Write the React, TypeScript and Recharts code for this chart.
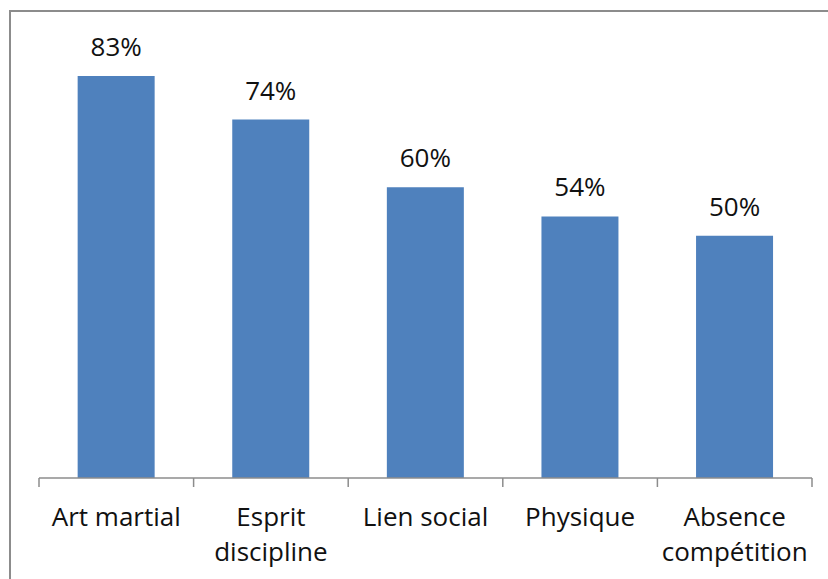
import { BarChart, Bar, XAxis, YAxis, LabelList } from 'recharts'

const categories = ['Art martial', 'Esprit discipline', 'Lien social', 'Physique', 'Absence compétition']
const shares = [83, 74, 60, 54, 50]

const data = categories.map((name, i) => ({ name, value: shares[i] }))

const FONT = '"Open Sans", "Noto Sans", sans-serif'
const AXIS_GREY = '#8c8c8c'

function CategoryTick(props: any) {
  const { x, y, payload, index } = props
  const half = payload?.offset ?? 77.3
  const label: string = payload.value
  // long names go on two lines, like the original
  const lines = label.length > 12 ? label.split(' ') : [label]
  return (
    <g>
      <line x1={x - half} y1={y} x2={x - half} y2={y + 9} stroke={AXIS_GREY} strokeWidth={1.5} />
      {index === categories.length - 1 && (
        <line x1={x + half} y1={y} x2={x + half} y2={y + 9} stroke={AXIS_GREY} strokeWidth={1.5} />
      )}
      <text x={x} y={y + 48} textAnchor="middle" fontSize={26} fontFamily={FONT} fill="#111">
        {lines.map((ln, i) => (
          <tspan key={i} x={x} dy={i === 0 ? 0 : 35}>{ln}</tspan>
        ))}
      </text>
    </g>
  )
}

export default function App() {
  return (
    <div style={{ position: 'absolute', left: 0, top: 0, width: 828, height: 579, overflow: 'hidden', background: '#fff' }}>
      <div
        style={{
          position: 'absolute', left: 9, top: 10, width: 840, height: 600,
          border: `2px solid ${AXIS_GREY}`, boxSizing: 'border-box',
        }}
      />
      <div style={{ position: 'absolute', left: 0, top: 0 }}>
        <BarChart
          width={828}
          height={579}
          data={data}
          margin={{ top: 42, right: 16, bottom: 0, left: 39 }}
          barCategoryGap="25%"
        >
          <YAxis hide domain={[0, 90]} />
          <XAxis
            dataKey="name"
            height={101}
            interval={0}
            tickSize={0}
            tickMargin={0}
            tickLine={false}
            axisLine={{ stroke: AXIS_GREY, strokeWidth: 1.5 }}
            tick={<CategoryTick />}
          />
          <Bar dataKey="value" fill="#4f81bd" isAnimationActive={false}>
            <LabelList
              dataKey="value"
              position="top"
              offset={20}
              formatter={(v: any) => `${v}%`}
              fontSize={26}
              fontFamily={FONT}
              fill="#111"
            />
          </Bar>
        </BarChart>
      </div>
    </div>
  )
}
